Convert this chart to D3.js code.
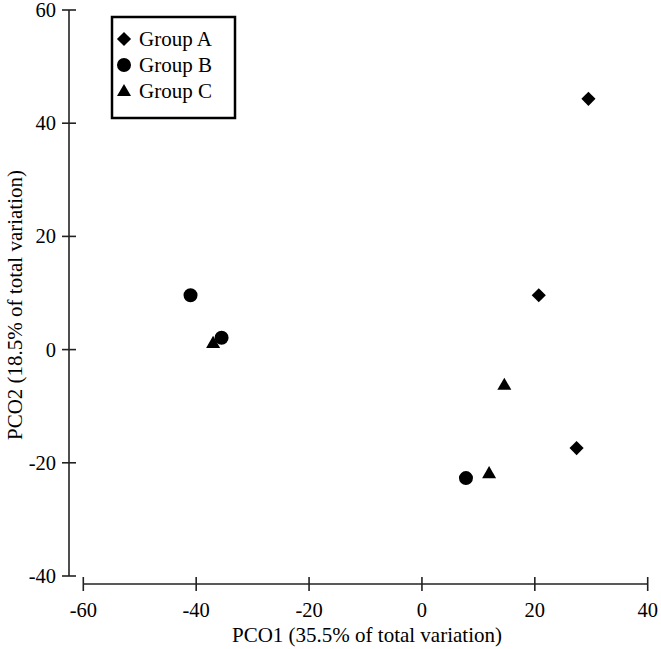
<!DOCTYPE html>
<html>
<head>
<meta charset="utf-8">
<script src="https://cdn.jsdelivr.net/npm/d3@7"></script>
<style>
  html, body { margin: 0; padding: 0; background: #fff; }
  svg { display: block; }
  text { font-family: "Liberation Serif", "Times New Roman", serif; fill: #000; }
</style>
</head>
<body>
<svg id="chart" width="661" height="649"></svg>
<script>
// ---- Data ----
const groups = ["Group A", "Group B", "Group C"];
const groupA_x = [29.5, 20.7, 27.4];
const groupA_y = [44.3, 9.6, -17.4];
const groupB_x = [-41.0, -35.5, 7.8];
const groupB_y = [9.6, 2.1, -22.7];
const groupC_x = [-37.0, 14.6, 11.9];
const groupC_y = [1.0, -6.4, -22.0];
const xTicks = [-60, -40, -20, 0, 20, 40];
const yTicks = [-40, -20, 0, 20, 40, 60];
const xTitle = "PCO1 (35.5% of total variation)";
const yTitle = "PCO2 (18.5% of total variation)";

const svg = d3.select("#chart");
const x = d3.scaleLinear().domain([-60, 40]).range([83.3, 647.7]);
const y = d3.scaleLinear().domain([-40, 60]).range([576, 10]);

const axisColor = "#222";
const yAxisX = 69;
const xAxisY = 584;
const tickHalf = 7;

// Y axis (offset)
const ya = svg.append("g");
ya.append("line").attr("x1", yAxisX).attr("x2", yAxisX)
  .attr("y1", y(-40)).attr("y2", y(60))
  .attr("stroke", axisColor).attr("stroke-width", 1.6);
ya.selectAll("line.t").data(yTicks).join("line").attr("class", "t")
  .attr("x1", yAxisX - tickHalf).attr("x2", yAxisX + tickHalf)
  .attr("y1", d => y(d)).attr("y2", d => y(d))
  .attr("stroke", axisColor).attr("stroke-width", 1.6);
ya.selectAll("text").data(yTicks).join("text")
  .attr("x", yAxisX - 13).attr("y", d => y(d))
  .attr("text-anchor", "end").attr("dominant-baseline", "central")
  .style("font-size", "20.5px").text(d => d);

// X axis (offset)
const xa = svg.append("g");
xa.append("line").attr("x1", x(-60)).attr("x2", x(40))
  .attr("y1", xAxisY).attr("y2", xAxisY)
  .attr("stroke", axisColor).attr("stroke-width", 1.6);
xa.selectAll("line.t").data(xTicks).join("line").attr("class", "t")
  .attr("x1", d => x(d)).attr("x2", d => x(d))
  .attr("y1", xAxisY - tickHalf).attr("y2", xAxisY + tickHalf)
  .attr("stroke", axisColor).attr("stroke-width", 1.6);
xa.selectAll("text").data(xTicks).join("text")
  .attr("x", d => x(d)).attr("y", 617)
  .attr("text-anchor", "middle")
  .style("font-size", "20.5px").text(d => d);

// Axis titles
svg.append("text").attr("x", 367).attr("y", 642)
  .attr("text-anchor", "middle").style("font-size", "21px").text(xTitle);
svg.append("text")
  .attr("transform", "translate(22,305) rotate(-90)")
  .attr("text-anchor", "middle").style("font-size", "21px").text(yTitle);

// Symbols
const symDiamond = d3.symbol().type(d3.symbolSquare).size(100)();
const symCircle = d3.symbol().type(d3.symbolCircle).size(154)();
const symTriangle = d3.symbol().type(d3.symbolTriangle).size(85)();

function drawGroup(xs, ys, path, rot) {
  svg.append("g").selectAll("path").data(xs.map((v, i) => [v, ys[i]])).join("path")
    .attr("d", path)
    .attr("transform", d => `translate(${x(d[0])},${y(d[1])})` + (rot ? ` rotate(${rot})` : ""))
    .attr("fill", "#000");
}
drawGroup(groupC_x, groupC_y, symTriangle, 0);
drawGroup(groupB_x, groupB_y, symCircle, 0);
drawGroup(groupA_x, groupA_y, symDiamond, 45);

// Legend
const lg = svg.append("g");
lg.append("rect").attr("x", 112).attr("y", 17).attr("width", 123).attr("height", 101)
  .attr("fill", "#fff").attr("stroke", "#000").attr("stroke-width", 2.5);
const legSyms = [[symDiamond, 45], [symCircle, 0], [symTriangle, 0]];
const legY = [39, 65, 91];
groups.forEach((g, i) => {
  lg.append("path").attr("d", legSyms[i][0])
    .attr("transform", `translate(124,${legY[i] + (i === 2 ? 1 : 0)})` + (legSyms[i][1] ? ` rotate(45)` : ""))
    .attr("fill", "#000");
  lg.append("text").attr("x", 139).attr("y", legY[i])
    .attr("dominant-baseline", "central").style("font-size", "21px").text(g);
});
</script>
</body>
</html>
